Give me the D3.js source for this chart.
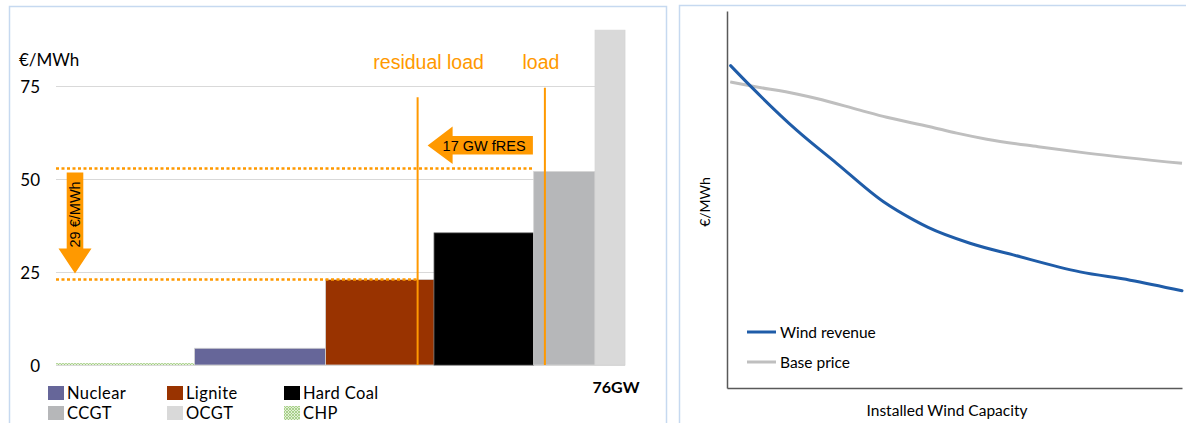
<!DOCTYPE html>
<html>
<head>
<meta charset="utf-8">
<script src="https://cdn.jsdelivr.net/npm/d3@7/dist/d3.min.js"></script>
<style>
  html, body { margin: 0; padding: 0; background: #fff; }
  svg { display: block; }
</style>
</head>
<body>
<svg id="chart" width="1186" height="423"></svg>
<script>
// ---- Merit order (left panel) ----
const plants      = ["CHP", "Nuclear", "Lignite", "Hard Coal", "CCGT", "OCGT"];
const capacityGW  = [18.5, 17.5, 14.5, 13.3, 8.2, 4.0];      // block widths, sum 76 GW
const costEUR     = [0.5, 4.5, 23, 35.5, 52, 90];            // marginal cost, €/MWh
const plantColors = ["url(#chpHatch)", "#666699", "#993300", "#000000", "#B6B7B9", "#D9D9D9"];
const priceTicks  = [0, 25, 50, 75];
const legendOrder = ["Nuclear", "Lignite", "Hard Coal", "CCGT", "OCGT", "CHP"];
const loadGW      = 65.3;   // total load
const fresGW      = 17;     // fluctuating renewables
const residualGW  = loadGW - fresGW;
const priceHigh   = 52;     // price set at load (CCGT)
const priceLow    = 23;     // price set at residual load (lignite)
const totalGW     = 76;

// ---- Wind market value (right panel) ----
const windX       = [0.8, 5.4, 15.3, 24.1, 34.4, 41.0, 44.2, 53.4, 62.9, 77.6, 88.6, 100];
const windRevenue = [85.5, 79.8, 68.4, 59.6, 49.4, 44.6, 42.6, 38.4, 35.3, 30.8, 28.6, 25.8];
const baseX       = [0.7, 5.4, 15.3, 19.7, 29.2, 35.1, 44.6, 50.5, 57.1, 68.4, 79.1, 100];
const basePrice   = [81.2, 80.1, 78.0, 76.8, 73.7, 71.8, 69.3, 67.6, 66.0, 64.0, 62.3, 59.6];

const ORANGE = "#FF9900";
const svg = d3.select("#chart");

// hatch for CHP
const defs = svg.append("defs");
const pat = defs.append("pattern").attr("id", "chpHatch")
  .attr("patternUnits", "userSpaceOnUse").attr("width", 3).attr("height", 3);
pat.append("rect").attr("width", 3).attr("height", 3).attr("fill", "#E2F0D6");
pat.append("path").attr("d", "M0,3 L3,0 M0,0 L3,3").attr("stroke", "#9CC97A").attr("stroke-width", 0.8);

// panel frames
svg.append("rect").attr("x", 9.5).attr("y", 6.5).attr("width", 657).attr("height", 440)
  .attr("fill", "#fff").attr("stroke", "#C6D9F0").attr("stroke-width", 1.5);
svg.append("rect").attr("x", 679.5).attr("y", 5.5).attr("width", 540).attr("height", 440)
  .attr("fill", "#fff").attr("stroke", "#C6D9F0").attr("stroke-width", 1.5);

// ================= LEFT PANEL =================
const x = d3.scaleLinear().domain([0, totalGW]).range([56, 625]);
const y = d3.scaleLinear().domain([0, 75]).range([365, 86]);

const left = svg.append("g");

// gridlines + tick labels
const yAxis = d3.axisLeft(y).tickValues(priceTicks).tickSize(-(x.range()[1] - x.range()[0])).tickPadding(16);
const ga = left.append("g").attr("transform", `translate(${x.range()[0]},0)`).call(yAxis);
ga.select(".domain").remove();
ga.selectAll(".tick line").attr("stroke", "#D9D9D9").attr("stroke-width", 1.2);
ga.selectAll(".tick text").attr("font-family", "Lato, 'Open Sans', sans-serif")
  .attr("font-size", 17).attr("fill", "#000").attr("dy", "0.36em");

left.append("text").attr("x", 19).attr("y", 66).text("€/MWh")
  .attr("font-family", "Lato, sans-serif").attr("font-size", 17).attr("fill", "#000");

// stacked merit-order blocks
let acc = 0;
const blocks = plants.map((p, i) => {
  const b = { name: p, x0: acc, x1: acc + capacityGW[i], cost: costEUR[i], color: plantColors[i] };
  acc += capacityGW[i];
  return b;
});
left.selectAll("rect.block").data(blocks).join("rect").attr("class", "block")
  .attr("x", d => x(d.x0)).attr("width", d => x(d.x1) - x(d.x0))
  .attr("y", d => y(d.cost)).attr("height", d => y(0) - y(d.cost))
  .attr("fill", d => d.color)
  .attr("stroke", d => d.name === "Hard Coal" ? "#404040" : (d.name === "CHP" ? "none" : "#D4D4D4"))
  .attr("stroke-width", 0.8);

// dotted price levels
left.append("line").attr("x1", x(0)).attr("x2", x(blocks[4].x0))
  .attr("y1", y(priceHigh) - 3).attr("y2", y(priceHigh) - 3)
  .attr("stroke", ORANGE).attr("stroke-width", 2.4).attr("stroke-dasharray", "3,2.5");
left.append("line").attr("x1", x(0)).attr("x2", x(residualGW))
  .attr("y1", y(priceLow)).attr("y2", y(priceLow))
  .attr("stroke", ORANGE).attr("stroke-width", 2.4).attr("stroke-dasharray", "3,2.5");

// residual load / load lines
left.append("line").attr("x1", x(residualGW)).attr("x2", x(residualGW))
  .attr("y1", y(72)).attr("y2", y(0)).attr("stroke", ORANGE).attr("stroke-width", 2);
left.append("line").attr("x1", x(loadGW)).attr("x2", x(loadGW))
  .attr("y1", y(74.5)).attr("y2", y(0)).attr("stroke", ORANGE).attr("stroke-width", 2);

left.append("text").attr("x", x(residualGW) + 11).attr("y", 69).attr("text-anchor", "middle")
  .text("residual load").attr("font-family", "'Liberation Sans', Arial, sans-serif")
  .attr("font-size", 19.5).attr("fill", ORANGE);
left.append("text").attr("x", x(loadGW) - 4).attr("y", 69).attr("text-anchor", "middle")
  .text("load").attr("font-family", "'Liberation Sans', Arial, sans-serif")
  .attr("font-size", 19.5).attr("fill", ORANGE);

// horizontal arrow: fRES shift
{
  const tip = x(residualGW) + 10, end = x(loadGW) - 12, hb = tip + 25;
  const cy = 145.5;
  left.append("path").attr("fill", ORANGE)
    .attr("d", `M${tip},${cy} L${hb},${cy - 19} L${hb},${cy - 9.5} L${end},${cy - 9.5} L${end},${cy + 9} L${hb},${cy + 9} L${hb},${cy + 18.5} Z`);
  left.append("text").attr("x", tip + 15).attr("y", cy + 5.5).text(`${fresGW} GW fRES`)
    .attr("font-family", "'Liberation Sans', Arial, sans-serif").attr("font-size", 14.5).attr("fill", "#000");
}

// vertical arrow: price drop
{
  const cx = 75, top = y(priceHigh) + 1, tip = y(priceLow) - 6, hb = tip - 25;
  left.append("path").attr("fill", ORANGE)
    .attr("d", `M${cx - 8.3},${top} L${cx + 8.3},${top} L${cx + 8.3},${hb} L${cx + 16.5},${hb} L${cx},${tip} L${cx - 16.5},${hb} L${cx - 8.3},${hb} Z`);
  left.append("text").attr("transform", `translate(${cx + 5},${hb - 1}) rotate(-90)`)
    .text(`${priceHigh - priceLow} €/MWh`)
    .attr("font-family", "'Liberation Sans', Arial, sans-serif").attr("font-size", 14.5).attr("fill", "#000");
}

// total capacity label
left.append("text").attr("x", 616).attr("y", 393).attr("text-anchor", "middle").text(`${totalGW}GW`)
  .attr("font-family", "Lato, sans-serif").attr("font-weight", "bold").attr("font-size", 16).attr("fill", "#000");

// legend
const colOf = name => plantColors[plants.indexOf(name)];
const legX = [48, 167, 284];
const leg = left.selectAll("g.leg").data(legendOrder).join("g").attr("class", "leg")
  .attr("transform", (d, i) => `translate(${legX[i % 3]},${386 + Math.floor(i / 3) * 20})`);
leg.append("rect").attr("width", 16).attr("height", 14).attr("fill", d => colOf(d));
leg.append("text").attr("x", 19).attr("y", 13).text(d => d)
  .attr("font-family", "Lato, sans-serif").attr("font-size", 16.5).attr("letter-spacing", 0.4).attr("fill", "#000");

// ================= RIGHT PANEL =================
const rx = d3.scaleLinear().domain([0, 100]).range([727, 1182]);
const ry = d3.scaleLinear().domain([0, 100]).range([388, 11]);
const right = svg.append("g");

right.append("g").attr("transform", `translate(0,${ry(0)})`)
  .call(d3.axisBottom(rx).ticks(0).tickSizeOuter(0));
right.append("g").attr("transform", `translate(${rx(0)},0)`)
  .call(d3.axisLeft(ry).ticks(0).tickSizeOuter(0));
right.selectAll(".domain").attr("stroke", "#595959").attr("stroke-width", 1.5);

const line = d3.line().curve(d3.curveMonotoneX);
right.append("path")
  .attr("d", line(baseX.map((v, i) => [rx(v), ry(basePrice[i])])))
  .attr("fill", "none").attr("stroke", "#BFBFBF").attr("stroke-width", 3);
right.append("path")
  .attr("d", line(windX.map((v, i) => [rx(v), ry(windRevenue[i])])))
  .attr("fill", "none").attr("stroke", "#1F5CA8").attr("stroke-width", 3).attr("stroke-linecap", "round");

// legend
const rleg = [["Wind revenue", "#1F5CA8"], ["Base price", "#BFBFBF"]];
const rl = right.selectAll("g.rleg").data(rleg).join("g").attr("class", "rleg")
  .attr("transform", (d, i) => `translate(747,${332 + i * 30})`);
rl.append("line").attr("x1", 0).attr("x2", 29).attr("stroke", d => d[1]).attr("stroke-width", 3);
rl.append("text").attr("x", 33).attr("y", 6).text(d => d[0])
  .attr("font-family", "Lato, sans-serif").attr("font-size", 15.5).attr("fill", "#000");

right.append("text").attr("x", 947).attr("y", 416).attr("text-anchor", "middle")
  .text("Installed Wind Capacity").attr("font-family", "Lato, sans-serif").attr("font-size", 15.5).attr("fill", "#000");
right.append("text").attr("transform", "translate(710,202) rotate(-90)").attr("text-anchor", "middle")
  .text("€/MWh").attr("font-family", "Lato, sans-serif").attr("font-size", 14).attr("fill", "#000");
</script>
</body>
</html>
